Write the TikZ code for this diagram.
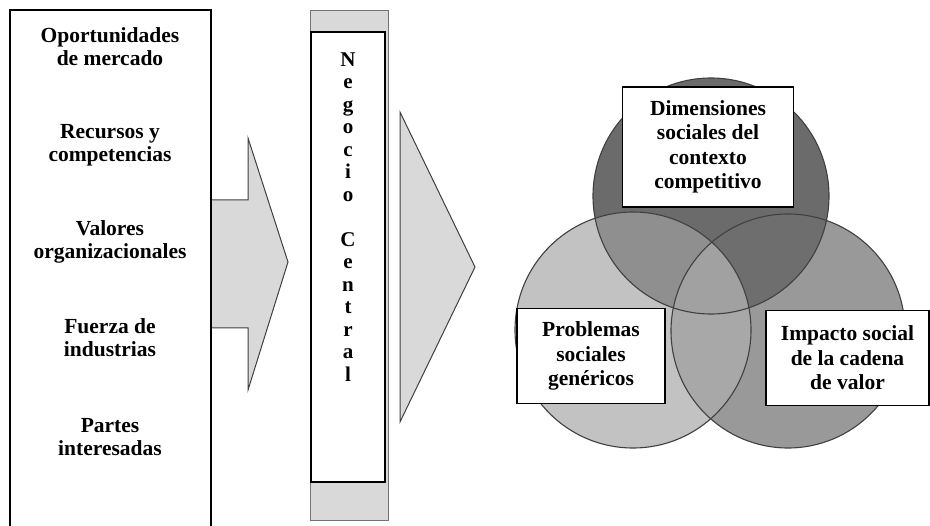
\documentclass[tikz,border=0pt]{standalone}
\usepackage{fontspec}
\setmainfont{Liberation Serif}
\usetikzlibrary{positioning}

\begin{document}
\begin{tikzpicture}[x=1pt, y=-1pt,
      item/.style={align=center, font=\fontsize{21.5}{23}\selectfont\bfseries},
      labelbox/.style={rectangle, draw, line width=1.6pt, fill=white,
                  align=center, inner sep=0pt,
                  font=\fontsize{21.5}{24.5}\selectfont\bfseries},
      bigarrow/.style={fill=black!15, draw=black!75, line width=1pt},
      ring/.style={draw=black!75, line width=1.1pt}]
    \useasboundingbox (0,0) rectangle (930,526);

    % first arrow, behind the list
    \draw[bigarrow] (200,200) -- (248,200) -- (248,138) -- (288,262)
      -- (248,390) -- (248,328) -- (200,328);
    \fill[white] (10,10) rectangle (211,526);
    \draw[line width=1.4pt] (10,527) -- (10,10) -- (211,10) -- (211,527);

    \node[item] (opor) at (110,47) {Oportunidades\\de mercado};
    \node[item] (recu) at (110,145) {Recursos y\\competencias};
    \node[item] (valo) at (110,242) {Valores\\organizacionales};
    \node[item] (fuer) at (110,338) {Fuerza de\\industrias};
    \node[item] (part) at (110,437) {Partes\\interesadas};

    % core business column
    \draw[fill=black!15, draw=black!55, line width=1pt] (310,11) rectangle (388,521);
    \node[rectangle, draw, line width=1.2pt, fill=white, minimum width=74pt,
      minimum height=450pt] (nego) at (348,257) {};
    \node[align=center, font=\fontsize{21}{22.5}\selectfont\bfseries]
      (negotxt) at (348,217)
      {N\\e\\g\\o\\c\\i\\o\\[22.5pt]C\\e\\n\\t\\r\\a\\l};

    % second arrow
    \draw[bigarrow] (400,112) -- (475,267) -- (400,422) -- cycle;

    % venn
    \coordinate (ctop) at (711,196);
    \coordinate (cleft) at (633,330);
    \coordinate (cright) at (788,331);
    \fill[black!58] (ctop) circle (118);
    \fill[black!24] (cleft) circle (118);
    \fill[black!40] (cright) circle (117);
    \begin{scope}
      \clip (ctop) circle (118);
      \fill[black!44] (cleft) circle (118);
      \fill[black!57] (cright) circle (117);
    \end{scope}
    \begin{scope}
      \clip (cleft) circle (118);
      \fill[black!34] (cright) circle (117);
      \clip (ctop) circle (118);
      \fill[black!37] (cright) circle (117);
    \end{scope}
    \draw[ring] (ctop) circle (118);
    \draw[ring] (cleft) circle (118);
    \draw[ring] (cright) circle (117);

    \node[labelbox, minimum width=171pt, minimum height=120pt] (dime) at (708,147)
      {Dimensiones\\sociales del\\contexto\\competitivo};
    \node[labelbox, minimum width=148pt, minimum height=95pt] (prob) at (591,356)
      {Problemas\\sociales\\gen\'ericos};
    \node[labelbox, minimum width=163pt, minimum height=95pt] (impa) at (847.5,358)
      {Impacto social\\de la cadena\\de valor};
\end{tikzpicture}
\end{document}
